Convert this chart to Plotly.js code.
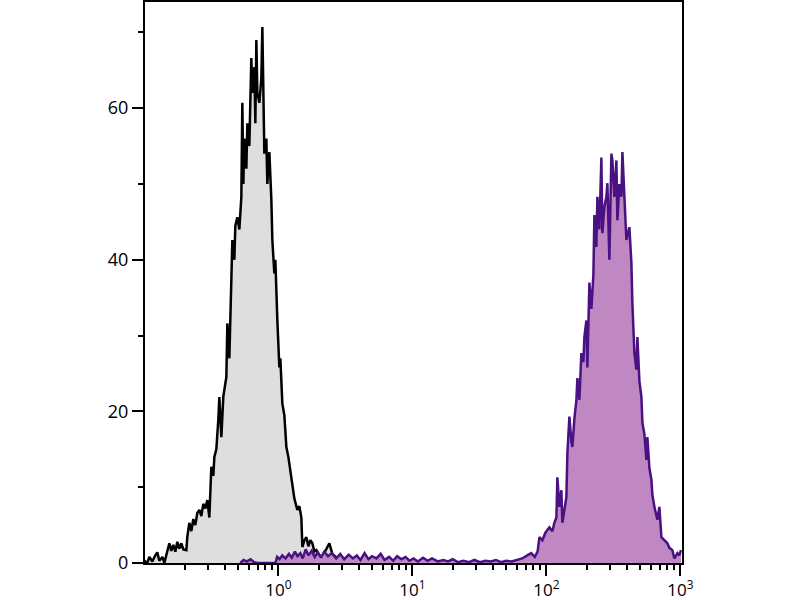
<!DOCTYPE html>
<html>
<head>
<meta charset="utf-8">
<script src="https://cdn.plot.ly/plotly-3.0.1.min.js"></script>
<style>html,body{margin:0;padding:0;background:#fff;}#chart{width:800px;height:600px;}</style>
</head>
<body>
<div id="chart"></div>
<script>
// Control (unstained) histogram: fluorescence intensity and event counts
var controlX = [0.100,0.1053,0.109,0.1147,0.1208,0.1250,0.1294,0.1363,0.1410,0.1485,0.1537,0.1590,0.1646,0.1704,0.1763,0.1825,0.1889,0.1955,0.2058,0.2094,0.2167,0.2243,0.2321,0.2402,0.2486,0.2573,0.2663,0.2756,0.2853,0.2952,0.3056,0.3162,0.3273,0.3330,0.3446,0.3567,0.3629,0.3756,0.3887,0.4092,0.4163,0.4309,0.4459,0.4537,0.4695,0.4777,0.4944,0.5117,0.5296,0.5387,0.5481,0.5576,0.5771,0.5871,0.6076,0.6288,0.6398,0.6621,0.6736,0.6853,0.6971,0.7215,0.7467,0.7597,0.7862,0.8136,0.8278,0.8568,0.8868,0.9021,0.9334,0.9498,0.9831,1.0175,1.035,1.0713,1.1088,1.1476,1.1877,1.2292,1.2722,1.3167,1.3863,1.4347,1.4850,1.5107,1.5635,1.6182,1.6747,1.7332,1.7938,1.8566,1.9215,2.023,2.130,2.243,2.402,2.529,2.663,2.853,3.109,3.5];
var controlY = [0.3,0,0.8,0.2,1.0,1.4,0.3,0.8,0,1.5,2.6,1.6,2.4,1.5,2.8,1.9,2.6,1.8,1.7,3.5,5.3,4.2,5.8,5.0,6.6,7.0,6.2,7.8,7.2,8.3,6.0,12.7,11.5,14.0,15.0,19.0,21.9,16.6,22.0,24.5,31.6,27.0,37.3,42.6,40.0,44.5,45.6,44.0,48.3,60.7,50.0,56.0,52.0,58.0,55.0,66.6,62.0,65.4,58.0,69.0,62.0,60.7,64.0,70.7,54.0,56.0,50.0,54.2,47.9,42.6,38.2,40.0,32.0,25.8,27.0,21.0,19.5,15.3,14.0,12.0,10.0,8.5,7.0,7.5,6.0,2.1,3.0,3.4,2.2,3.0,2.6,1.5,1.7,1.0,0.8,1.5,2.6,1.2,0.8,0.4,0.2,0];

// Stained sample histogram
var stainedX = [0.52,0.55,0.58,0.62,0.66,0.70,0.95,0.98,1.02,1.07,1.13,1.20,1.26,1.33,1.39,1.46,1.52,1.60,1.68,1.77,1.87,1.97,2.08,2.20,2.35,2.50,2.70,2.90,3.10,3.35,3.60,3.85,4.10,4.40,4.70,5.00,5.40,5.80,6.20,6.70,7.20,7.70,8.30,8.90,9.50,10.2,11,12,13,14,15.5,17,18.5,20,22,24,26.5,29,32,35,38.5,42,46,50,55,60,66,72,77,82,86,88.7,93.4,98.3,105.3,110.9,114.7,118.8,120.8,125.0,129.4,131.6,136.3,141.0,143.5,148.5,153.7,156.3,161.8,167.5,170.4,176.3,182.5,188.9,192.1,198.9,202.3,209.4,216.7,224.3,228.2,236.1,240.2,248.6,257.3,261.8,270.9,280.4,285.3,295.2,305.6,310.8,321.7,333.0,338.8,350.6,362.9,369.2,382.1,395.4,416.3,430.9,438.3,453.7,469.5,477.7,494.4,511.7,520.6,538.7,557.6,567.2,587.1,607.6,618.1,639.8,673.6,697.1,721.5,759.7,799.9,827.8,871.6,902.1,949.8,983.1,1010];
var stainedY = [0,0.4,0.2,0.5,0.1,0,0,0.8,0.5,1.0,0.6,1.2,0.7,1.5,0.9,1.3,0.6,1.8,1.0,1.6,0.8,1.4,0.7,1.5,0.9,1.3,0.6,1.2,0.5,1.1,0.6,1.0,0.4,1.3,0.5,0.9,0.6,1.2,0.4,0.8,0.3,0.9,0.5,0.8,0.3,0.6,0.2,0.7,0.3,0.6,0.2,0.4,0.2,0.5,0.1,0.3,0.1,0.4,0.1,0.3,0.2,0.4,0.1,0.3,0.2,0.4,0.6,1.0,1.3,0.8,1.5,3.4,3.0,4.0,4.7,4.2,5.3,6.0,11.3,7.4,9.6,5.3,7.0,8.7,14.5,19.3,16.0,15.3,19.0,21.5,24.4,21.5,27.7,26.5,29.8,32.0,25.8,37.0,33.5,38.0,45.9,41.7,48.3,44.0,53.5,43.5,47.0,48.3,50.1,40.0,54.0,53.1,48.3,53.1,45.2,50.0,48.3,54.2,48.3,42.6,44.3,39.6,34.3,27.7,25.5,29.8,24.0,21.9,18.5,17.0,13.6,16.6,12.5,11.0,9.0,7.4,5.7,7.4,3.4,3.0,2.6,2.0,1.7,0.6,1.3,1.0,1.7];

var majorTickVals = [1, 10, 100, 1000];
var majorTickText = ['10<sup>0</sup>', '10<sup>1</sup>', '10<sup>2</sup>', '10<sup>3</sup>'];
var minorTickVals = [0.2,0.3,0.4,0.5,0.6,0.7,0.8,0.9,2,3,4,5,6,7,8,9,20,30,40,50,60,70,80,90,200,300,400,500,600,700,800,900];

var traces = [
  {x: controlX, y: controlY, type: 'scatter', mode: 'lines', fill: 'tozeroy',
   fillcolor: '#dedede', line: {color: '#000000', width: 2.5}, hoverinfo: 'skip'},
  {x: stainedX, y: stainedY, type: 'scatter', mode: 'lines', fill: 'tozeroy',
   fillcolor: '#bf88c3', line: {color: '#4a1182', width: 2.5}, hoverinfo: 'skip'}
];

var layout = {
  width: 800, height: 600,
  margin: {l: 145, r: 118, t: 2, b: 37, pad: 0},
  paper_bgcolor: '#ffffff', plot_bgcolor: '#ffffff',
  showlegend: false,
  font: {family: 'Open Sans, Liberation Sans, sans-serif', size: 17, color: '#000'},
  xaxis: {
    type: 'log', range: [-0.995, 3.012],
    tickmode: 'array', tickvals: majorTickVals, ticktext: majorTickText,
    ticks: 'outside', ticklen: 11, tickwidth: 2, tickcolor: '#000',
    showline: true, linecolor: '#000', linewidth: 2, mirror: true,
    showgrid: false, zeroline: false,
    minor: {tickmode: 'array', tickvals: minorTickVals, ticks: 'outside', ticklen: 5, tickwidth: 2, tickcolor: '#000', showgrid: false},
    tickfont: {size: 17}
  },
  yaxis: {
    range: [0, 74], tickmode: 'linear', tick0: 0, dtick: 20,
    ticks: 'outside', ticklen: 11, tickwidth: 2, tickcolor: '#000',
    showline: true, linecolor: '#000', linewidth: 2, mirror: true,
    showgrid: false, zeroline: false,
    minor: {dtick: 10, ticks: 'outside', ticklen: 5, tickwidth: 2, tickcolor: '#000', showgrid: false},
    tickfont: {size: 18}
  }
};

Plotly.newPlot('chart', traces, layout, {staticPlot: true, displayModeBar: false});
</script>
</body>
</html>
